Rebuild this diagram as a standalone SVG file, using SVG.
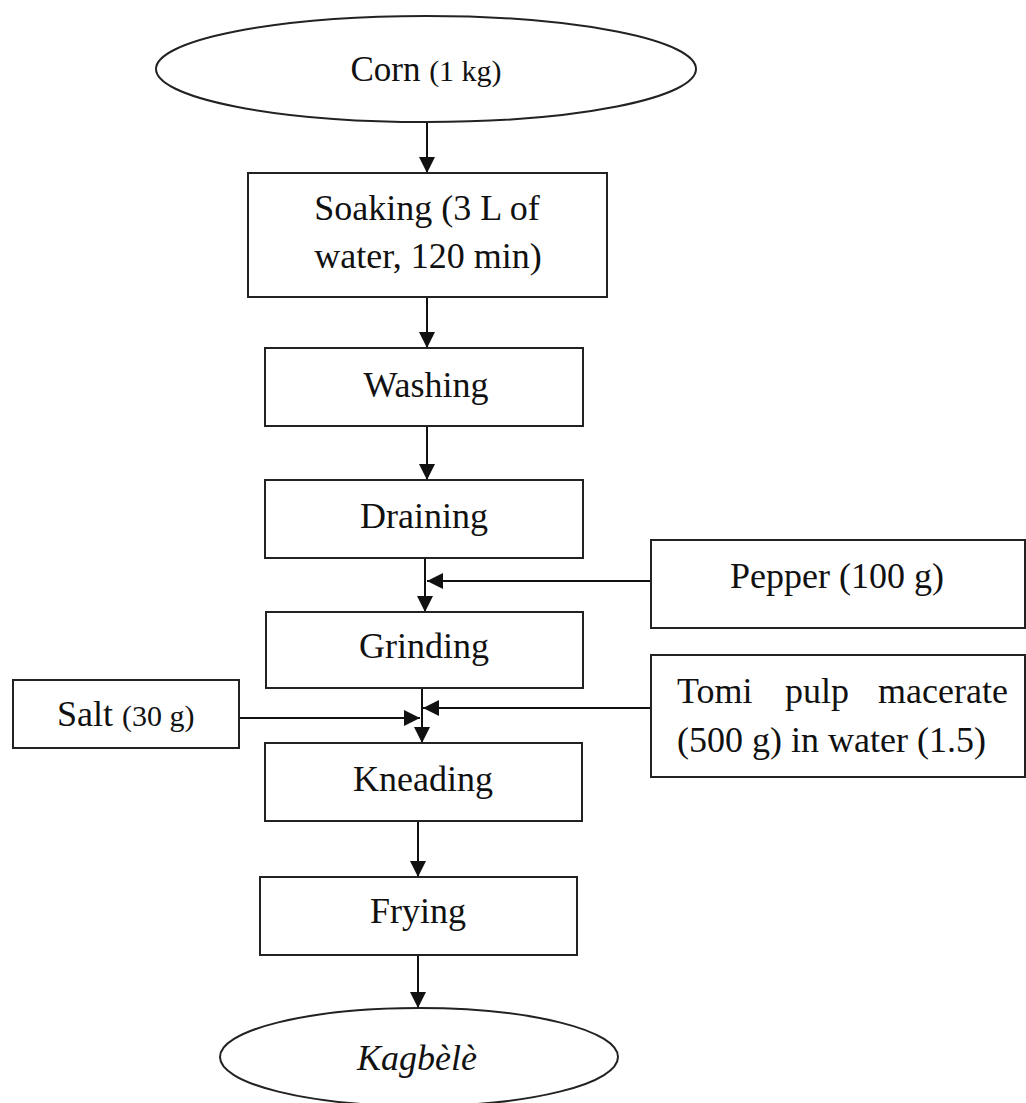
<svg xmlns="http://www.w3.org/2000/svg" width="1026" height="1103" viewBox="0 0 1026 1103">
<style>
.box{fill:#fff;stroke:#222;stroke-width:2}
.t{font-family:"Liberation Serif","Times New Roman",serif;font-size:36px;fill:#111}
.c{text-anchor:middle}
.ln{stroke:#111;stroke-width:2;fill:none}
</style>
<defs>
<marker id="ah" viewBox="0 0 16 16" refX="16" refY="8" markerWidth="16" markerHeight="16" markerUnits="userSpaceOnUse" orient="auto">
<path d="M0,0 L16,8 L0,16 z" fill="#111"/>
</marker>
</defs>
<rect width="1026" height="1103" fill="#fff"/>
<g id="connectors">
<line class="ln" x1="427" y1="122" x2="427" y2="173" marker-end="url(#ah)"/>
<line class="ln" x1="427" y1="297" x2="427" y2="348" marker-end="url(#ah)"/>
<line class="ln" x1="427" y1="426" x2="427" y2="480" marker-end="url(#ah)"/>
<line class="ln" x1="425" y1="558" x2="425" y2="612" marker-end="url(#ah)"/>
<line class="ln" x1="651" y1="581" x2="427" y2="581" marker-end="url(#ah)"/>
<line class="ln" x1="422" y1="688" x2="422" y2="743" marker-end="url(#ah)"/>
<line class="ln" x1="651" y1="708" x2="423" y2="708" marker-end="url(#ah)"/>
<line class="ln" x1="239" y1="718" x2="420" y2="718" marker-end="url(#ah)"/>
<line class="ln" x1="418" y1="821" x2="418" y2="877" marker-end="url(#ah)"/>
<line class="ln" x1="418" y1="955" x2="418" y2="1008" marker-end="url(#ah)"/>
</g>
<g id="corn">
<ellipse class="box" cx="426" cy="69" rx="270" ry="53"/>
<text class="t c" x="426" y="81"><tspan font-size="35">Corn </tspan><tspan font-size="30">(1 kg)</tspan></text>
</g>
<g id="soaking">
<rect class="box" x="248" y="173" width="359" height="124"/>
<text class="t c" x="427" y="220">Soaking (3 L of</text>
<text class="t c" x="428" y="268">water, 120 min)</text>
</g>
<g id="washing">
<rect class="box" x="265" y="348" width="318" height="78"/>
<text class="t c" x="426" y="397">Washing</text>
</g>
<g id="draining">
<rect class="box" x="265" y="480" width="318" height="78"/>
<text class="t c" x="424" y="528">Draining</text>
</g>
<g id="pepper">
<rect class="box" x="651" y="540" width="374" height="88"/>
<text class="t c" x="837" y="588">Pepper (100 g)</text>
</g>
<g id="grinding">
<rect class="box" x="266" y="612" width="317" height="76"/>
<text class="t c" x="424" y="658">Grinding</text>
</g>
<g id="salt">
<rect class="box" x="13" y="680" width="226" height="68"/>
<text class="t" x="57" y="726">Salt <tspan font-size="30">(30 g)</tspan></text>
</g>
<g id="tomi">
<rect class="box" x="651" y="655" width="374" height="122"/>
<text class="t" y="703"><tspan x="677">Tomi</tspan><tspan x="785">pulp</tspan><tspan x="1008" text-anchor="end">macerate</tspan></text>
<text class="t" x="677" y="752">(500 g) in water (1.5)</text>
</g>
<g id="kneading">
<rect class="box" x="265" y="743" width="317" height="78"/>
<text class="t c" x="423" y="791">Kneading</text>
</g>
<g id="frying">
<rect class="box" x="260" y="877" width="317" height="78"/>
<text class="t c" x="418" y="923">Frying</text>
</g>
<g id="kagbele">
<ellipse class="box" cx="419" cy="1057" rx="199" ry="49"/>
<text class="t c" x="417" y="1070" font-style="italic">Kagbèlè</text>
</g>
</svg>
